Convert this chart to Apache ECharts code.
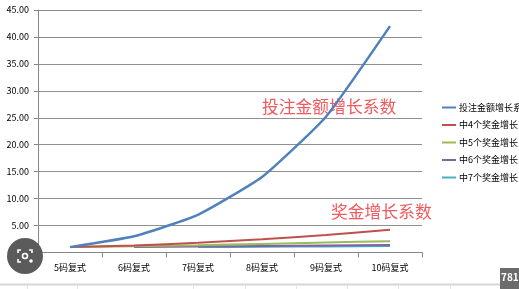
<!DOCTYPE html>
<html><head><meta charset="utf-8">
<script src="https://cdn.jsdelivr.net/npm/echarts@6/dist/echarts.min.js"></script>
<style>html,body{margin:0;padding:0;background:#fff;}#c{width:519px;height:289px;}</style>
</head><body><div id="c"></div>
<script>
const categories = ['5码复式','6码复式','7码复式','8码复式','9码复式','10码复式'];
const seriesNames = ['投注金额增长系数','中4个奖金增长系数','中5个奖金增长系数','中6个奖金增长系数','中7个奖金增长系数'];
const betGrowth = [1, 3, 7, 14, 25.2, 42];
const win4Growth = [1, 1.3, 1.8, 2.45, 3.25, 4.2];
const win5Growth = [1, 1.15, 1.35, 1.6, 1.85, 2.1];
const win6Growth = [null, 1, 1.1, 1.2, 1.3, 1.4];
const win7Growth = [null, null, 1, 1.07, 1.13, 1.2];
const yTicks = [0,5,10,15,20,25,30,35,40,45];
const colors = ['#4F81BD','#C0504D','#9BBB59','#8064A2','#4BACC6'];
const allData = [betGrowth, win4Growth, win5Growth, win6Growth, win7Growth];
const font = '"Noto Sans CJK SC", "Noto Sans", sans-serif';

const chart = echarts.init(document.getElementById('c'), null, {renderer:'canvas'});
chart.setOption({
  animation:false,
  backgroundColor:'#fff',
  grid:{left:38, right:97, top:10, bottom:36.5, containLabel:false},
  xAxis:{type:'category', data:categories, boundaryGap:true,
    axisLine:{lineStyle:{color:'#868686', width:1}},
    axisTick:{show:true, length:5, lineStyle:{color:'#868686'}},
    axisLabel:{color:'#000', fontSize:9, fontFamily:font, margin:11}},
  yAxis:{type:'value', min:yTicks[0], max:yTicks[yTicks.length-1], interval:5,
    axisLine:{show:true, lineStyle:{color:'#868686'}},
    axisTick:{show:true, length:4, lineStyle:{color:'#868686'}},
    splitLine:{lineStyle:{color:'#8f8f8f', width:1}},
    axisLabel:{color:'#000', fontSize:9, fontFamily:font, margin:9, formatter:v=>v.toFixed(2)}},
  legend:{orient:'vertical', left:437, top:97, itemWidth:14, itemHeight:2, itemGap:6.5,
    icon:'rect', textStyle:{fontSize:9, fontFamily:font, color:'#000', lineHeight:11, padding:[0,0,0,-2]},
    data:seriesNames},
  series: seriesNames.map((n,i)=>({name:n, type:'line', data:allData[i], symbol:'none',
    smooth:0.15, connectNulls:false,
    lineStyle:{color:colors[i], width: i===0?2.5:2}, itemStyle:{color:colors[i]}, z: 10-i})),
  graphic:[
    {type:'text', left:262, top:98, style:{text:'投注金额增长系数', font:'16.8px '+font, fill:'#f05a5f'}},
    {type:'text', left:331, top:203, style:{text:'奖金增长系数', font:'16.8px '+font, fill:'#f05a5f'}},
    {type:'rect', shape:{x:0, y:283.5, width:519, height:2}, style:{fill:'#d6d6d6'}},
    {type:'group', children:[27,77,193,245,296,347,398,450].map(x=>({type:'rect', shape:{x:x, y:285.5, width:1, height:4}, style:{fill:'#e4e4e4'}}))},
    {type:'rect', shape:{x:500, y:268, width:19, height:21}, style:{fill:'#6b6b6b'}, z:100},
    {type:'text', left:501, top:272, style:{text:'781', font:'bold 10px '+font, fill:'#fff'}, z:101},
    {type:'circle', shape:{cx:25, cy:256, r:18}, style:{fill:'#5b5b5b'}, z:100},
    {type:'polyline', shape:{points:[[18,253],[18,250],[21,250]]}, style:{stroke:'#fff', lineWidth:1.6, fill:null}, z:101},
    {type:'polyline', shape:{points:[[29,250],[32,250],[32,253]]}, style:{stroke:'#fff', lineWidth:1.6, fill:null}, z:101},
    {type:'polyline', shape:{points:[[18,259],[18,262],[21,262]]}, style:{stroke:'#fff', lineWidth:1.6, fill:null}, z:101},
    {type:'circle', shape:{cx:25, cy:256, r:2.5}, style:{stroke:'#fff', lineWidth:1.6, fill:null}, z:101},
    {type:'circle', shape:{cx:31, cy:261, r:1.8}, style:{fill:'#fff'}, z:101}
  ]
});
</script></body></html>
